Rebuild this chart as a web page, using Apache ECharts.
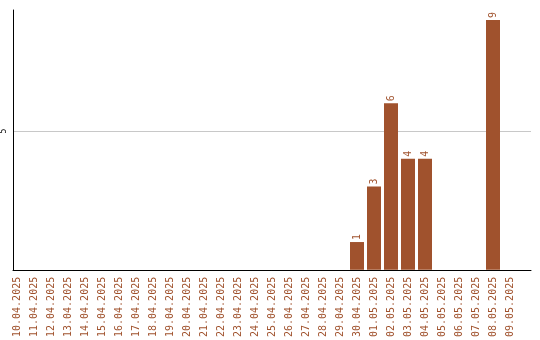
<!DOCTYPE html>
<html><head><meta charset="utf-8">
<script src="https://cdn.jsdelivr.net/npm/echarts@6/dist/echarts.min.js"></script>
<style>html,body{margin:0;padding:0;background:#fff}#c{width:540px;height:340px}</style>
</head><body><div id="c"></div>
<script>
const categories = ['10.04.2025','11.04.2025','12.04.2025','13.04.2025','14.04.2025','15.04.2025','16.04.2025','17.04.2025','18.04.2025','19.04.2025','20.04.2025','21.04.2025','22.04.2025','23.04.2025','24.04.2025','25.04.2025','26.04.2025','27.04.2025','28.04.2025','29.04.2025','30.04.2025','01.05.2025','02.05.2025','03.05.2025','04.05.2025','05.05.2025','06.05.2025','07.05.2025','08.05.2025','09.05.2025'];
const values = [0,0,0,0,0,0,0,0,0,0,0,0,0,0,0,0,0,0,0,0,1,3,6,4,4,0,0,0,9,0];
const yTicks = [5];
const yMax = 9.36;

const brown = '#a0522d';
const font = 'DejaVu Sans Mono';
const chart = echarts.init(document.getElementById('c'));
chart.setOption({
  animation: false,
  grid: [
    {left: 8.5, top: 10, width: 510, height: 260},
    {left: 10.5, top: 10, width: 520.5, height: 260}
  ],
  xAxis: [
    {type: 'category', gridIndex: 0, data: categories, boundaryGap: true,
     axisLine: {show: false}, axisTick: {show: false},
     axisLabel: {rotate: 90, interval: 0, margin: 7, color: brown, fontFamily: font, fontSize: 10}},
    {type: 'value', gridIndex: 1, min: 0, max: 1,
     axisLine: {show: true, onZero: false, lineStyle: {color: '#000', width: 1}},
     axisTick: {show: false}, axisLabel: {show: false}, splitLine: {show: false}}
  ],
  yAxis: [
    {type: 'value', gridIndex: 0, min: 0, max: yMax, show: false},
    {type: 'value', gridIndex: 1, min: 0, max: yMax,
     axisLine: {show: true, lineStyle: {color: '#000', width: 1}},
     axisTick: {show: false, customValues: yTicks},
     axisLabel: {customValues: yTicks, rotate: 90, margin: 5, color: '#000', fontFamily: font, fontSize: 8},
     splitLine: {show: true, lineStyle: {color: '#c8c8c8', width: 1}}}
  ],
  series: [{
    type: 'bar', xAxisIndex: 0, yAxisIndex: 0, data: values, barWidth: 14,
    itemStyle: {color: brown},
    label: {show: true, position: 'top', rotate: 90, align: 'left', verticalAlign: 'middle', distance: 2,
      color: brown, fontFamily: font, fontSize: 10,
      formatter: p => p.value ? String(p.value) : ''}
  }]
});
</script></body></html>
